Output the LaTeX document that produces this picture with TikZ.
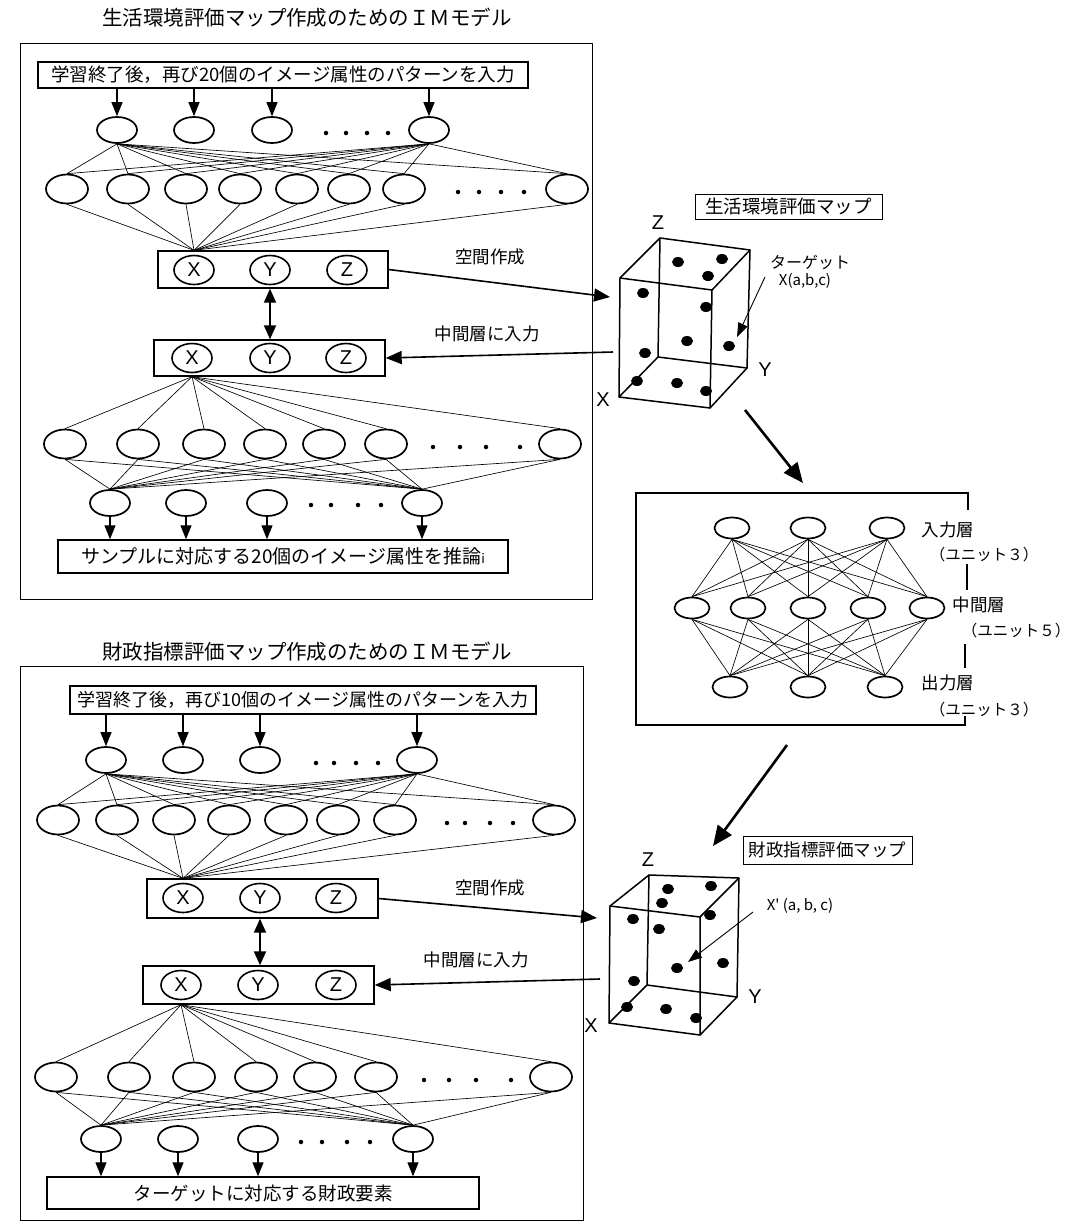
\documentclass[tikz,border=0pt]{standalone}
\usepackage{fontspec}
\setmainfont{Liberation Sans}
\newfontfamily\jp{Noto Sans CJK JP}
\usetikzlibrary{arrows.meta,shapes.geometric}
\begin{document}
\begin{tikzpicture}[x=1pt,y=-1pt,
 jpt/.style={font=\jp\fontsize{#1}{#1}\selectfont, inner sep=0pt},
 frame/.style={draw, line width=1.1pt, inner sep=0pt},
 tbox/.style={draw, line width=1.4pt, inner sep=0pt, font=\jp\fontsize{18.5}{19}\selectfont},
 nd/.style={draw, ellipse, line width=1.7pt, minimum width=40pt, minimum height=26pt, inner sep=0pt},
 ndb/.style={nd, minimum width=42pt, minimum height=29pt},
 nn/.style={nd, minimum width=35pt, minimum height=21pt, line width=1.7pt},
 xyz/.style={draw, ellipse, line width=1.6pt, minimum width=40pt, minimum height=29pt, inner sep=0pt, font=\fontsize{20}{20}\selectfont},
 xyzbox/.style={draw, line width=1.4pt, inner sep=0pt},
 dotn/.style={circle, fill, inner sep=0pt, minimum size=4.5pt},
 link/.style={line width=0.65pt},
 arr/.style={line width=1.2pt, -{Triangle[length=14pt,width=11pt]}},
 bigarr/.style={line width=1.6pt, -{Triangle[length=16pt,width=13pt]}},
 dblarr/.style={line width=2pt, {Triangle[length=14pt,width=12pt]}-{Triangle[length=14pt,width=12pt]}},
 fatarr/.style={line width=2.6pt, -{Triangle[length=20pt,width=17pt]}},
 tarr/.style={line width=0.9pt, -{Triangle[length=14pt,width=10pt]}},
 cube/.style={line width=1.5pt, line join=round},
 axl/.style={font=\fontsize{20}{20}\selectfont, inner sep=0pt},
]
\useasboundingbox (0,0) rectangle (1076,1227);

% ================= TOP MODEL =================
\node[jpt=20.5] (title1) at (307,18) {生活環境評価マップ作成のためのＩＭモデル};
\node[frame, anchor=north west, minimum width=572pt, minimum height=556pt] (frame1) at (20,43) {};
\node[tbox, minimum width=490pt, minimum height=26pt] (in1) at (283,75) {学習終了後，再び20個のイメージ属性のパターンを入力};

\foreach \i/\x in {1/117,2/194,3/272,4/429} \node[nd] (a\i) at (\x,130) {};
\foreach \i/\x in {1/326,2/346,3/367,4/388} \node[dotn] (ad\i) at (\x,133) {};
\foreach \i in {1,...,4} \draw[arr] (in1.south -| a\i) -- (a\i.north);

\foreach \j/\x in {1/67,2/128,3/186,4/240,5/297,6/349,7/404,8/567} \node[ndb] (b\j) at (\x,189) {};
\foreach \i/\x in {1/458,2/479,3/501,4/524} \node[dotn] (bd\i) at (\x,192) {};
\foreach \j in {1,...,8} {\draw[link] (a1.south) -- (b\j.north); \draw[link] (a4.south) -- (b\j.north);}

\node[xyzbox, minimum width=230pt, minimum height=37pt] (bx1) at (273,269.5) {};
\node[xyz] (x1) at (194,270) {X};
\node[xyz] (y1) at (270,270) {Y};
\node[xyz] (z1) at (347,270) {Z};
\coordinate (c1) at (x1 |- bx1.north);
\foreach \j in {1,...,8} \draw[link] (b\j.south) -- (c1);

\node[jpt=17.5] (s1) at (490,257) {空間作成};
\node[xyzbox, minimum width=231pt, minimum height=36pt] (bx2) at (269.5,358) {};
\node[xyz] (x2) at (192,358) {X};
\node[xyz] (y2) at (270,358) {Y};
\node[xyz] (z2) at (346,358) {Z};
\node[jpt=17.5] (m1) at (487,334) {中間層に入力};
\draw[dblarr] (bx1.south -| y1) -- (bx2.north -| y1);

\foreach \j/\x in {1/65,2/138,3/204,4/265,5/324,6/386,7/560} \node[ndb] (r\j) at (\x,444) {};
\foreach \i/\x in {1/433,2/460,3/486,4/520} \node[dotn] (rd\i) at (\x,447) {};
\coordinate (c2) at (x2 |- bx2.south);
\foreach \j in {1,...,7} \draw[link] (c2) -- (r\j.north);

\foreach \i/\x in {1/110,2/186,3/267,4/422} \node[nd] (o\i) at (\x,503) {};
\foreach \i/\x in {1/311,2/331,3/358,4/381} \node[dotn] (od\i) at (\x,505) {};
\foreach \j in {1,...,7} {\draw[link] (r\j.south) -- (o1.north); \draw[link] (r\j.south) -- (o4.north);}

\node[tbox, font=\jp\fontsize{19}{19}\selectfont, minimum width=450pt, minimum height=33pt] (out1) at (283,556.5) {サンプルに対応する20個のイメージ属性を推論{\fontsize{13}{13}\selectfont i}};
\foreach \i in {1,...,4} \draw[arr] (o\i.south) -- (o\i.south |- out1.north);

% ================= BOTTOM MODEL =================
\node[jpt=20.5] (title2) at (307,652) {財政指標評価マップ作成のためのＩＭモデル};
\node[frame, anchor=north west, minimum width=563pt, minimum height=554pt] (frame2) at (20,666) {};
\node[tbox, font=\jp\fontsize{18}{19}\selectfont, minimum width=466pt, minimum height=28pt] (in2) at (303,700) {学習終了後，再び10個のイメージ属性のパターンを入力};

\foreach \i/\x in {1/106,2/183,3/260,4/417} \node[nd] (e\i) at (\x,760) {};
\foreach \i/\x in {1/316,2/334,3/356,4/378} \node[dotn] (ed\i) at (\x,763) {};
\foreach \i in {1,...,4} \draw[arr] (in2.south -| e\i) -- (e\i.north);

\foreach \j/\x in {1/58,2/117,3/174,4/229,5/286,6/338,7/395,8/554} \node[ndb] (g\j) at (\x,820) {};
\foreach \i/\x in {1/447,2/465,3/490,4/513} \node[dotn] (gd\i) at (\x,823) {};
\foreach \j in {1,...,8} {\draw[link] (e1.south) -- (g\j.north); \draw[link] (e4.south) -- (g\j.north);}

\node[xyzbox, minimum width=231pt, minimum height=39pt] (bx3) at (262.5,898.5) {};
\node[xyz] (x3) at (183,898) {X};
\node[xyz] (y3) at (260,898) {Y};
\node[xyz] (z3) at (336,898) {Z};
\coordinate (c3) at (x3 |- bx3.north);
\foreach \j in {1,...,8} \draw[link] (g\j.south) -- (c3);

\node[jpt=17.5] (s2) at (490,888) {空間作成};
\node[xyzbox, minimum width=231pt, minimum height=38pt] (bx4) at (258.5,985) {};
\node[xyz] (x4) at (181,985) {X};
\node[xyz] (y4) at (258,985) {Y};
\node[xyz] (z4) at (336,985) {Z};
\node[jpt=17.5] (m2) at (476,960) {中間層に入力};
\draw[dblarr] (bx3.south -| y3) -- (bx4.north -| y3);

\foreach \j/\x in {1/56,2/129,3/194,4/256,5/315,6/376,7/551} \node[ndb] (h\j) at (\x,1077) {};
\foreach \i/\x in {1/424,2/449,3/476,4/511} \node[dotn] (hd\i) at (\x,1080) {};
\coordinate (c4) at (x4 |- bx4.south);
\foreach \j in {1,...,7} \draw[link] (c4) -- (h\j.north);

\foreach \i/\x in {1/101,2/178,3/258,4/413} \node[nd] (u\i) at (\x,1139) {};
\foreach \i/\x in {1/301,2/322,3/347,4/370} \node[dotn] (ud\i) at (\x,1142) {};
\foreach \j in {1,...,7} {\draw[link] (h\j.south) -- (u1.north); \draw[link] (h\j.south) -- (u4.north);}

\node[tbox, font=\jp\fontsize{18.5}{19}\selectfont, minimum width=432pt, minimum height=32pt] (out2) at (263,1193) {ターゲットに対応する財政要素};
\foreach \i in {1,...,4} \draw[arr] (u\i.south) -- (u\i.south |- out2.north);

% ================= TOP CUBE =================
\node[draw, line width=1pt, minimum width=187pt, minimum height=25pt, jpt=18.5] (lab1) at (788.5,206.5) {生活環境評価マップ};
\coordinate (A1) at (620,278); \coordinate (A2) at (712,290);
\coordinate (A3) at (710,408); \coordinate (A4) at (619,397);
\coordinate (B1) at (660,238); \coordinate (B2) at (750,250);
\coordinate (B3) at (747,368); \coordinate (B4) at (658,357);
\draw[cube] (A1) -- (A2) -- (A3) -- (A4) -- cycle;
\draw[cube] (B1) -- (B2) -- (B3) -- (B4) -- cycle;
\draw[cube] (A1) -- (B1); \draw[cube] (A2) -- (B2);
\draw[cube] (A3) -- (B3); \draw[cube] (A4) -- (B4);
\foreach \p in {(678,262),(722,259),(708,276),(643,293),(706,307),(687,341),(729,346),(645,353),(637,381),(677,383),(706,391)}
  \fill \p ellipse [x radius=6, y radius=5];
\node[axl] (zl1) at (658,223) {Z};
\node[axl] (xl1) at (603,400) {X};
\node[axl] (yl1) at (765,370) {Y};
\node[jpt=16] (tg1) at (810,262) {ターゲット};
\node[jpt=15] (tc1) at (805,281) {X(a,b,c)};
\coordinate (tp1) at (765,277); \coordinate (tq1) at (737,337);
\draw[tarr] (tp1) -- (tq1);
\coordinate (k1) at (610,297);
\coordinate (k2) at (613,352);
\draw[bigarr] (bx1.east) -- (k1);
\draw[bigarr] (k2) -- (bx2.east);

% ================= NETWORK =================
\coordinate (f1) at (745,410); \coordinate (f2) at (803,483);
\draw[fatarr] (f1) -- (f2);
\draw[line width=1.1pt] (968,510) -- (968,493) -- (636,493) -- (636,725) -- (965,725) -- (965,716);
\draw[line width=1.1pt] (967,564) -- (967,590);
\draw[line width=1.1pt] (965,644) -- (965,668);
\foreach \i/\x in {1/732,2/808,3/887} \node[nn] (ni\i) at (\x,528) {};
\foreach \j/\x in {1/692,2/748,3/808,4/868,5/927} \node[nn] (nh\j) at (\x,608) {};
\foreach \k/\x in {1/730,2/808,3/885} \node[nn] (no\k) at (\x,687) {};
\foreach \i in {1,2,3} \foreach \j in {1,...,5} \draw[link] (ni\i.south) -- (nh\j.north);
\foreach \j in {1,...,5} \foreach \k in {1,2,3} \draw[link] (nh\j.south) -- (no\k.north);
\node[jpt=17.5] (ly1) at (948,530) {入力層};
\node[jpt=15.5] (lu1) at (984,555) {（ユニット３）};
\node[jpt=17.5] (ly2) at (979,605) {中間層};
\node[jpt=15.5] (lu2) at (1016,631) {（ユニット５）};
\node[jpt=17.5] (ly3) at (948,683) {出力層};
\node[jpt=15.5] (lu3) at (984,710) {（ユニット３）};
\coordinate (f3) at (787,745); \coordinate (f4) at (713,846);
\draw[fatarr] (f3) -- (f4);

% ================= BOTTOM CUBE =================
\node[draw, line width=1pt, minimum width=169pt, minimum height=28pt, jpt=17.5] (lab2) at (827.5,850) {財政指標評価マップ};
\coordinate (C1) at (610,906); \coordinate (C2) at (700,917);
\coordinate (C3) at (700,1035); \coordinate (C4) at (609,1023);
\coordinate (D1) at (649,875); \coordinate (D2) at (739,878);
\coordinate (D3) at (737,997); \coordinate (D4) at (647,985);
\draw[cube] (C1) -- (C2) -- (C3) -- (C4) -- cycle;
\draw[cube] (D1) -- (D2) -- (D3) -- (D4) -- cycle;
\draw[cube] (C1) -- (D1); \draw[cube] (C2) -- (D2);
\draw[cube] (C3) -- (D3); \draw[cube] (C4) -- (D4);
\foreach \p in {(668,889),(711,886),(662,903),(710,915),(633,919),(659,929),(677,968),(723,963),(634,981),(627,1007),(666,1009),(696,1018)}
  \fill \p ellipse [x radius=6, y radius=5];
\node[axl] (zl2) at (648,860) {Z};
\node[axl] (xl2) at (591,1026) {X};
\node[axl] (yl2) at (755,997) {Y};
\node[jpt=15] (tc2) at (800,906) {X' (a, b, c)};
\coordinate (tp2) at (753,912); \coordinate (tq2) at (688,962);
\draw[tarr] (tp2) -- (tq2);
\coordinate (k3) at (597,918);
\coordinate (k4) at (600,979);
\draw[bigarr] (bx3.east) -- (k3);
\draw[bigarr] (k4) -- (bx4.east);
\end{tikzpicture}
\end{document}
